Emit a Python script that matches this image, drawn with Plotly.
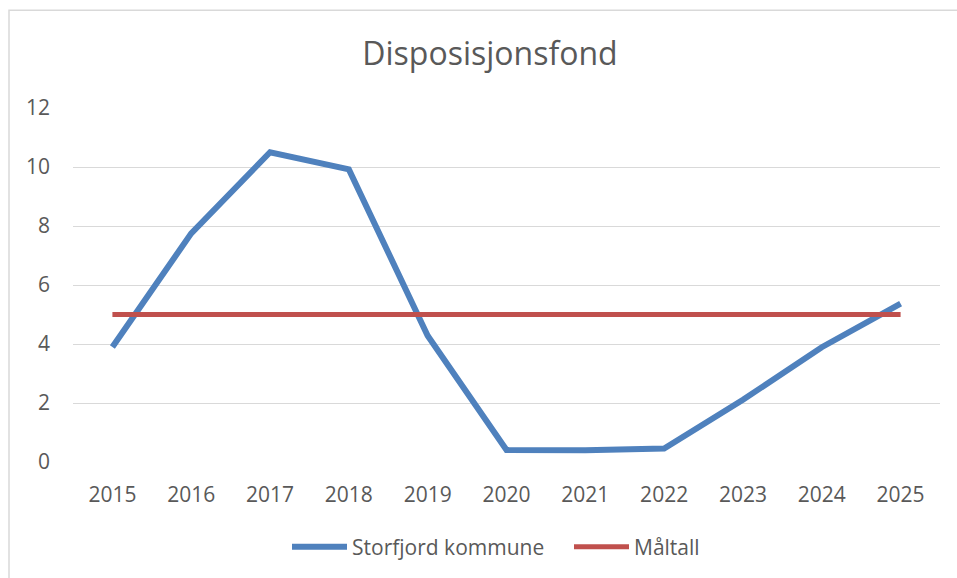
import plotly.graph_objects as go

years = ["2015", "2016", "2017", "2018", "2019", "2020", "2021", "2022", "2023", "2024", "2025"]
storfjord = [3.9, 7.75, 10.5, 9.92, 4.28, 0.41, 0.4, 0.46, 2.11, 3.89, 5.37]
maltall = [5, 5, 5, 5, 5, 5, 5, 5, 5, 5, 5]
y_ticks = [0, 2, 4, 6, 8, 10, 12]

W, H = 957, 578
L, R, T, B = 73, 17, 108, 115
pw, ph = W - L - R, H - T - B

fig = go.Figure()
fig.add_trace(go.Scatter(x=years, y=storfjord, mode="lines", name="Storfjord kommune",
                         line=dict(color="#4f81bd", width=6)))
fig.add_trace(go.Scatter(x=years, y=maltall, mode="lines", name="Måltall",
                         line=dict(color="#c0504d", width=5)))

font_family = "'Open Sans', sans-serif"
fig.update_layout(
    width=W, height=H,
    margin=dict(l=L, r=R, t=T, b=B),
    paper_bgcolor="white", plot_bgcolor="white",
    title=dict(text="Disposisjonsfond", x=490 / W, xanchor="center",
               y=1 - 54 / H, yanchor="middle",
               font=dict(family=font_family, size=32, color="#595959")),
    xaxis=dict(type="category", range=[-0.5, 10.5], showgrid=False, showline=False, ticks="",
               tickfont=dict(family=font_family, size=21, color="#595959"), ticklabelstandoff=18),
    yaxis=dict(range=[0, 12], tickvals=y_ticks, showgrid=True, gridcolor="#d9d9d9", gridwidth=1.3,
               zeroline=False, showline=False, ticks="",
               tickfont=dict(family=font_family, size=21, color="#595959"), ticklabelstandoff=22),
    legend=dict(orientation="h", x=(569 - L) / pw, xanchor="center", y=-(547 - (T + ph)) / ph, yanchor="middle",
                font=dict(family=font_family, size=21, color="#595959"), itemwidth=55,
                entrywidth=212, entrywidthmode="pixels",
                bgcolor="rgba(0,0,0,0)"),
    showlegend=True,
)

fig.add_shape(type="rect", xref="paper", yref="paper",
              x0=(9 - L) / pw, x1=(W + 5 - L) / pw,
              y0=-(H + 5 - (T + ph)) / ph, y1=(T + ph - 10) / ph,
              line=dict(color="#d9d9d9", width=1.5), fillcolor="rgba(0,0,0,0)", layer="below")

fig.write_html("out.html", config={"displayModeBar": False},
               post_script="document.body.style.margin='0';document.body.style.overflow='hidden';")
